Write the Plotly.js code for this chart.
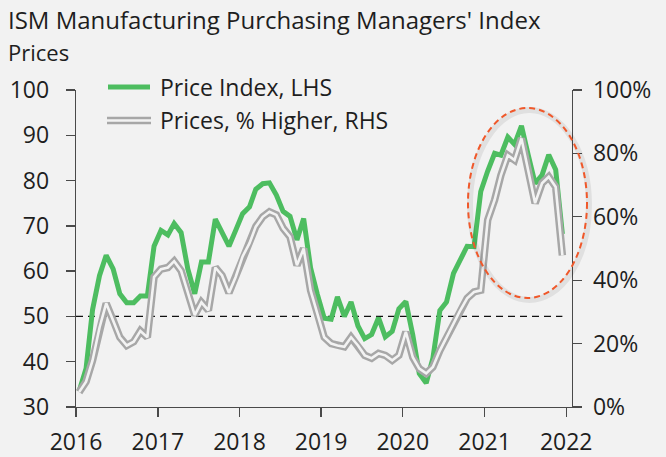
<!DOCTYPE html>
<html>
<head>
<meta charset="utf-8">
<script src="https://cdn.plot.ly/plotly-3.0.1.min.js"></script>
<style>
html,body{margin:0;padding:0;background:#f2f2f2;}
#chart{width:666px;height:457px;}
</style>
</head>
<body>
<div id="chart"></div>
<script>
// Monthly observations, Jan 2016 - Dec 2021
const months = [];
for (let y = 2016; y <= 2021; y++) {
  for (let m = 1; m <= 12; m++) {
    months.push(y + '-' + String(m).padStart(2, '0') + '-15');
  }
}
// ISM Prices Index (left axis)
const priceIndex = [
  33.5, 38.5, 51.5, 59.0, 63.5, 60.5, 55.0, 53.0, 53.0, 54.5, 54.5, 65.5,
  69.0, 68.0, 70.5, 68.5, 60.5, 55.0, 62.0, 62.0, 71.5, 68.5, 65.5, 69.0,
  72.7, 74.2, 78.1, 79.3, 79.5, 76.8, 73.2, 72.1, 66.9, 71.6, 60.7, 54.9,
  49.6, 49.4, 54.3, 50.0, 53.2, 47.9, 45.1, 46.0, 49.7, 45.5, 46.7, 51.7,
  53.3, 45.9, 37.4, 35.3, 40.8, 51.3, 53.2, 59.5, 62.8, 65.5, 65.4, 77.6,
  82.1, 86.0, 85.6, 89.6, 88.0, 92.1, 85.7, 79.4, 81.2, 85.7, 82.4, 68.2
];
// Prices, % reporting higher (right axis, %)
const pctHigher = [
  4.7, 8.0, 14.7, 25.0, 32.7, 27.4, 22.0, 19.4, 20.6, 24.0, 22.0, 41.0,
  43.5, 44.0, 46.0, 43.0, 36.0, 29.0, 33.0, 30.5, 44.0, 41.5, 36.0, 41.0,
  47.5, 51.7, 56.9, 60.0, 61.6, 60.6, 56.4, 53.7, 44.7, 50.0, 36.8, 29.6,
  22.0, 20.0, 19.4, 19.0, 22.0, 19.4, 16.3, 15.4, 16.9, 16.3, 14.7, 16.3,
  23.7, 15.7, 12.1, 10.6, 12.6, 17.8, 22.0, 26.4, 30.6, 34.3, 36.3, 36.8,
  59.0, 65.3, 73.1, 79.4, 77.9, 84.7, 74.7, 64.3, 70.6, 72.6, 69.4, 47.8
];
const leftTicks = [30, 40, 50, 60, 70, 80, 90, 100];
const rightTicks = [0, 20, 40, 60, 80, 100];
const rightTickLabels = ['0%', '20%', '40%', '60%', '80%', '100%'];
const yearTicks = ['2016-01-01','2017-01-01','2018-01-01','2019-01-01','2020-01-01','2021-01-01','2022-01-01'];
const yearLabels = ['2016','2017','2018','2019','2020','2021','2022'];
const seriesNames = ['Price Index, LHS', 'Prices, % Higher, RHS'];
const titleText = "ISM Manufacturing Purchasing Managers' Index";
const subtitleText = 'Prices';
const refLevel = 50;

const GREEN = '#4dbd60';
const GREY = '#a7a7a7';
const INNER = '#f3f3f3';
const FONT = 'Open Sans, sans-serif';
const TXT = '#1e1e1e';
const AX = '#4a4a4a';
const TICKSIZE = 23;

const traces = [
  {x: months, y: pctHigher, yaxis: 'y2', type: 'scatter', mode: 'lines',
   line: {color: GREY, width: 7.5}, name: seriesNames[1], showlegend: false, hoverinfo: 'skip'},
  {x: months, y: pctHigher, yaxis: 'y2', type: 'scatter', mode: 'lines',
   line: {color: INNER, width: 2.6}, name: seriesNames[1], showlegend: false},
  {x: months, y: priceIndex, yaxis: 'y', type: 'scatter', mode: 'lines',
   line: {color: GREEN, width: 5}, name: seriesNames[0], showlegend: false}
];

const L = 76, R = 572, T = 90, B = 407;
const px = v => (v - L) / (R - L);
const py = v => (B - v) / (B - T);

const layout = {
  width: 666, height: 457,
  margin: {l: L, r: 666 - R, t: T, b: 457 - B, pad: 0},
  paper_bgcolor: '#f2f2f2', plot_bgcolor: '#f2f2f2',
  font: {family: FONT, color: TXT, size: TICKSIZE},
  showlegend: false,
  xaxis: {type: 'date', range: ['2016-01-01', '2022-01-27'],
          tickmode: 'array', tickvals: yearTicks, ticktext: yearLabels,
          ticks: 'outside', ticklen: 9, tickwidth: 1.3, tickcolor: AX,
          showline: true, linecolor: AX, linewidth: 1.3, showgrid: false, zeroline: false,
          tickfont: {family: FONT, size: TICKSIZE, color: TXT}, ticklabelstandoff: 5},
  yaxis: {range: [30, 100], tickmode: 'array', tickvals: leftTicks,
          ticks: 'outside', ticklen: 9, tickwidth: 1.3, tickcolor: AX,
          showline: true, linecolor: AX, linewidth: 1.3, showgrid: false, zeroline: false,
          tickfont: {family: FONT, size: TICKSIZE, color: TXT}, ticklabelstandoff: 12},
  yaxis2: {range: [0, 100], overlaying: 'y', side: 'right', tickmode: 'array',
           tickvals: rightTicks, ticktext: rightTickLabels,
           ticks: 'outside', ticklen: 9, tickwidth: 1.3, tickcolor: AX,
           showline: true, linecolor: AX, linewidth: 1.3, showgrid: false, zeroline: false,
           tickfont: {family: FONT, size: TICKSIZE, color: TXT}, ticklabelstandoff: 6},
  shapes: [
    {type: 'line', xref: 'x', yref: 'y', x0: '2016-01-01', x1: '2021-12-15', y0: refLevel, y1: refLevel,
     line: {color: '#111', width: 1.3, dash: '7px,5px'}, layer: 'below'},
    // soft shadow of the highlight ellipse
    {type: 'circle', xref: 'paper', yref: 'paper', x0: px(470), x1: px(589), y0: py(300), y1: py(110),
     line: {color: 'rgba(0,0,0,0.07)', width: 6}},
    {type: 'circle', xref: 'paper', yref: 'paper', x0: px(468), x1: px(587), y0: py(298), y1: py(108),
     line: {color: '#f0582a', width: 2, dash: '6px,4px'}},
    // legend samples
    {type: 'line', xref: 'paper', yref: 'paper', x0: px(108), x1: px(150), y0: py(87), y1: py(87),
     line: {color: GREEN, width: 5}},
    {type: 'line', xref: 'paper', yref: 'paper', x0: px(107), x1: px(151), y0: py(120.5), y1: py(120.5),
     line: {color: GREY, width: 7.5}},
    {type: 'line', xref: 'paper', yref: 'paper', x0: px(107), x1: px(151), y0: py(120.5), y1: py(120.5),
     line: {color: INNER, width: 2.6}}
  ],
  annotations: [
    {text: titleText, xref: 'paper', yref: 'paper', x: px(6), y: py(19), xanchor: 'left', yanchor: 'middle',
     showarrow: false, font: {family: FONT, size: 24, color: TXT}},
    {text: subtitleText, xref: 'paper', yref: 'paper', x: px(6), y: py(52), xanchor: 'left', yanchor: 'middle',
     showarrow: false, font: {family: FONT, size: 22, color: TXT}},
    {text: seriesNames[0], xref: 'paper', yref: 'paper', x: px(158), y: py(87), xanchor: 'left', yanchor: 'middle',
     showarrow: false, font: {family: FONT, size: 23, color: TXT}},
    {text: seriesNames[1], xref: 'paper', yref: 'paper', x: px(158), y: py(120.5), xanchor: 'left', yanchor: 'middle',
     showarrow: false, font: {family: FONT, size: 23, color: TXT}}
  ]
};

Plotly.newPlot('chart', traces, layout, {displayModeBar: false, staticPlot: true});
</script>
</body>
</html>
